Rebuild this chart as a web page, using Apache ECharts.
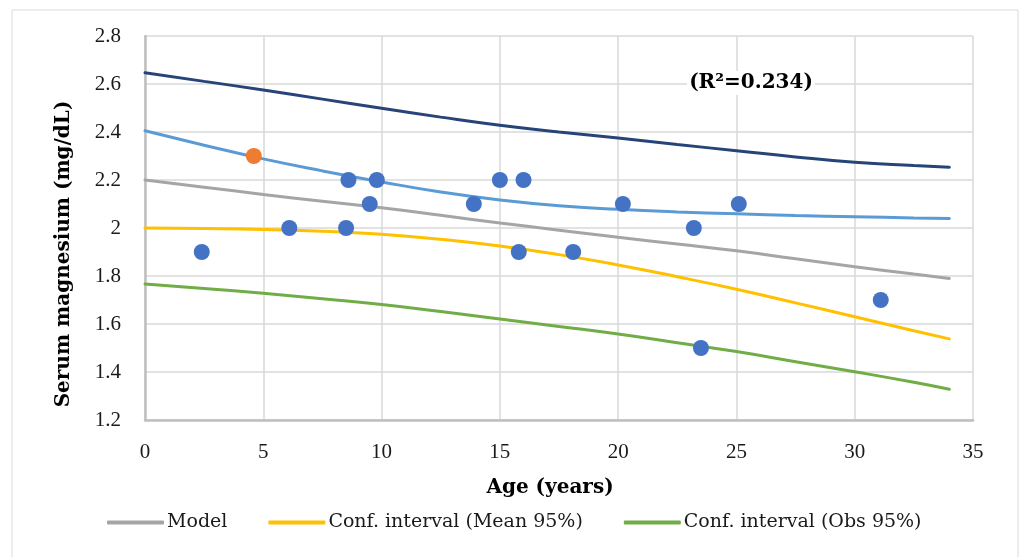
<!DOCTYPE html>
<html>
<head>
<meta charset="utf-8">
<script src="https://cdn.jsdelivr.net/npm/echarts@6/dist/echarts.min.js"></script>
<style>html,body{margin:0;padding:0;background:#fff;}#c{width:1021px;height:557px;}</style>
</head>
<body>
<div id="c"></div>
<script>
// Data
const curveAge   = [0, 2.5, 5, 7.5, 10, 12.5, 15, 17.5, 20, 22.5, 25, 27.5, 30, 32.5, 34];
const modelMg    = [2.200, 2.170, 2.140, 2.111, 2.084, 2.053, 2.021, 1.991, 1.961, 1.933, 1.905, 1.872, 1.839, 1.808, 1.790];
const meanLower  = [2.000, 1.998, 1.994, 1.986, 1.974, 1.953, 1.925, 1.889, 1.846, 1.797, 1.745, 1.688, 1.630, 1.572, 1.538];
const meanUpper  = [2.405, 2.345, 2.288, 2.238, 2.192, 2.150, 2.117, 2.093, 2.078, 2.067, 2.059, 2.052, 2.047, 2.042, 2.040];
const obsLower   = [1.767, 1.748, 1.728, 1.705, 1.681, 1.652, 1.621, 1.590, 1.558, 1.522, 1.485, 1.443, 1.401, 1.357, 1.328];
const obsUpper   = [2.647, 2.611, 2.575, 2.537, 2.499, 2.462, 2.428, 2.400, 2.375, 2.348, 2.322, 2.296, 2.274, 2.260, 2.253];
const pointAge   = [2.4, 6.1, 8.6, 8.5, 9.5, 9.8, 13.9, 15.0, 15.8, 16.0, 18.1, 20.2, 23.2, 23.5, 25.1, 31.1];
const pointMg    = [1.9, 2.0, 2.2, 2.0, 2.1, 2.2, 2.1, 2.2, 1.9, 2.2, 1.9, 2.1, 2.0, 1.5, 2.1, 1.7];
const outlierAge = [4.6];
const outlierMg  = [2.3];
const xTicks = [0, 5, 10, 15, 20, 25, 30, 35];
const yTicks = [1.2, 1.4, 1.6, 1.8, 2, 2.2, 2.4, 2.6, 2.8];
const seriesNames = ['Model', 'Conf. interval (Mean 95%)', 'Conf. interval (Obs 95%)'];

const pair = (xs, ys) => xs.map((x, i) => [x, ys[i]]);
const textFont = 'DejaVu Serif';
const numFont = 'Liberation Serif';

function lineSeries(name, ys, color) {
  return {
    name: name, type: 'line', data: pair(curveAge, ys), smooth: true,
    showSymbol: false, symbol: 'none', z: 2,
    lineStyle: { color: color, width: 3, cap: 'round' },
    itemStyle: { color: color }
  };
}

const chart = echarts.init(document.getElementById('c'));
chart.setOption({
  animation: false,
  backgroundColor: '#fff',
  grid: { left: 145, right: 48, top: 36, bottom: 137, containLabel: false },
  xAxis: {
    type: 'value', min: xTicks[0], max: xTicks[xTicks.length - 1], interval: 5,
    axisLine: { show: true, lineStyle: { color: '#bfbfbf', width: 2.5 } },
    axisTick: { show: false },
    splitLine: { show: true, lineStyle: { color: '#d9d9d9', width: 1.5 } },
    axisLabel: { margin: 22, fontFamily: numFont, fontSize: 21, color: '#1a1a1a' }
  },
  yAxis: {
    type: 'value', min: yTicks[0], max: yTicks[yTicks.length - 1], interval: 0.2,
    axisLine: { show: true, lineStyle: { color: '#bfbfbf', width: 2.5 } },
    axisTick: { show: false },
    splitLine: { show: true, lineStyle: { color: '#d9d9d9', width: 1.5 } },
    axisLabel: { margin: 24, fontFamily: numFont, fontSize: 21, color: '#1a1a1a',
      formatter: v => String(+(+v).toFixed(1)) }
  },
  legend: {
    data: seriesNames, left: 102, top: 508, itemWidth: 57, itemHeight: 4, itemGap: 41,
    icon: 'roundRect',
    textStyle: { fontFamily: textFont, fontSize: 19, color: '#1a1a1a', padding: [0, 0, 0, -2] }
  },
  series: [
    lineSeries('Obs upper', obsUpper, '#264478'),
    lineSeries('Mean upper', meanUpper, '#5b9bd5'),
    lineSeries(seriesNames[0], modelMg, '#a5a5a5'),
    lineSeries(seriesNames[1], meanLower, '#ffc000'),
    lineSeries(seriesNames[2], obsLower, '#70ad47'),
    { name: 'Observations', type: 'scatter', data: pair(pointAge, pointMg), symbolSize: 16, z: 5,
      itemStyle: { color: '#4472c4', opacity: 1 } },
    { name: 'Outlier', type: 'scatter', data: pair(outlierAge, outlierMg), symbolSize: 16, z: 5,
      itemStyle: { color: '#ed7d31', opacity: 1 } }
  ],
  graphic: [
    { type: 'rect', silent: true, z: -10,
      shape: { x: 12, y: 10, width: 1006, height: 560 },
      style: { fill: 'none', stroke: '#d9d9d9', lineWidth: 1 } },
    { type: 'text', x: 751, y: 83, silent: true, z: 100,
      style: { text: '(R²=0.234)', fontFamily: textFont, fontWeight: 'bold', fontSize: 20,
        fill: '#000', align: 'center', verticalAlign: 'middle',
        backgroundColor: '#fff', padding: [2, 2, 2, 2] } },
    { type: 'text', x: 550, y: 488, silent: true,
      style: { text: 'Age (years)', fontFamily: textFont, fontWeight: 'bold', fontSize: 20,
        fill: '#000', align: 'center', verticalAlign: 'middle' } },
    { type: 'text', x: 64, y: 254, rotation: Math.PI / 2, silent: true,
      style: { text: 'Serum magnesium (mg/dL)', fontFamily: textFont, fontWeight: 'bold', fontSize: 20,
        fill: '#000', align: 'center', verticalAlign: 'middle' } }
  ]
});
</script>
</body>
</html>
